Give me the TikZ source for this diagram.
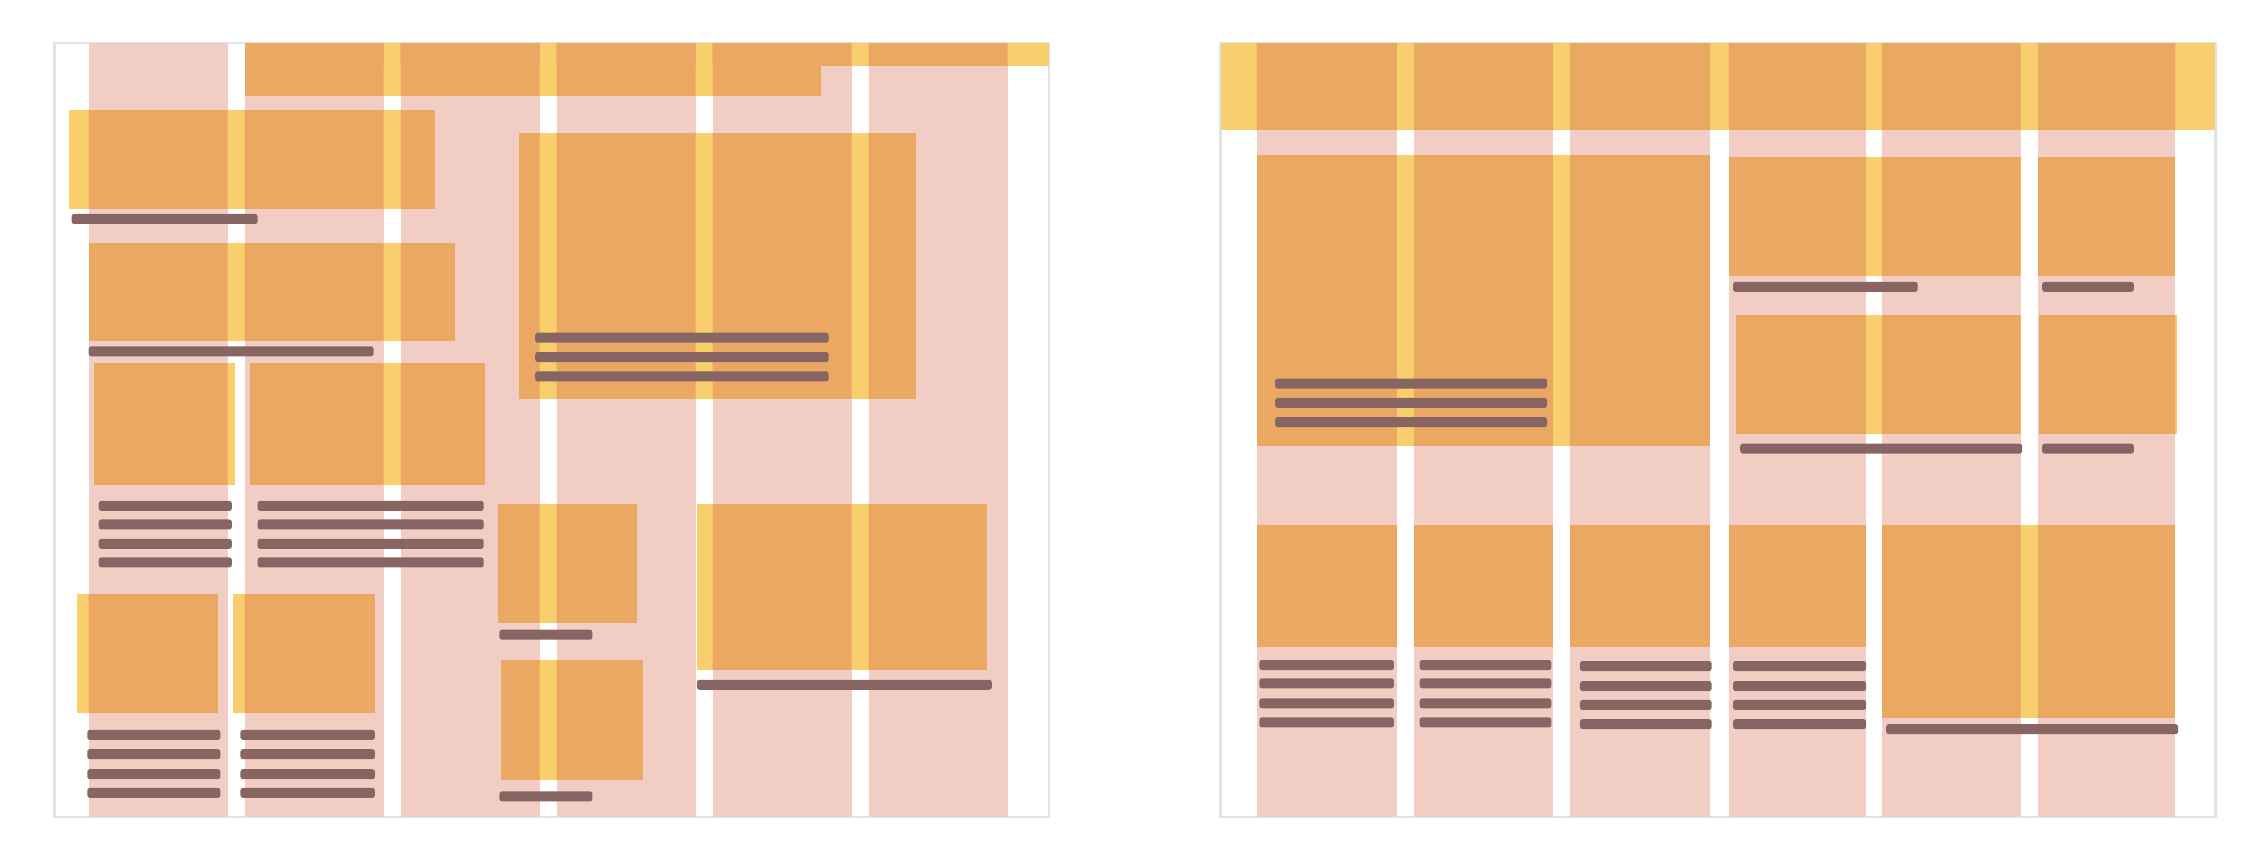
\documentclass[tikz,border=0pt]{standalone}
\usepackage{tikz}
\usetikzlibrary{calc}
\definecolor{cPink}{RGB}{242,205,196}
\definecolor{cOrange}{RGB}{234,168,98}
\definecolor{cYellow}{RGB}{249,206,108}
\definecolor{cBar}{RGB}{134,101,98}
\definecolor{cFrame}{RGB}{222,228,234}
\tikzset{
	colbox/.style  ={fill=cPink, draw=none},
	blkout/.style  ={fill=cYellow, draw=none},
	blkin/.style   ={fill=cOrange, draw=none},
	txt/.style     ={fill=cBar, draw=none, rounded corners=0.5pt},
	pageframe/.style={draw=cFrame, line width=0.5pt},
}
% one grey line of body text: x from, x to, y centre
\newcommand{\txtline}[3]{\fill[txt] (#1,#3-3.5) rectangle (#2,#3+3.5);}
% picture blocks of both pages: x1/y1/x2/y2
\newcommand{\leftblocks}{171/30/733/46, 171/30/574/67, 48/77/304/146, 62/170/318/238,
	66/254/164/339, 175/254/339/339, 54/415/152/498, 163/415/262/498,
	363/93/640/279, 348/352/445/435, 350/461/449/545, 487/352/690/468}
\newcommand{\rightblocks}{853/30/1548/91, 878/108/1195/312, 1208/110/1412/193,
	1424/110/1520/193, 1213/220/1412/303, 1425/220/1521/303,
	878/367/976/452, 988/367/1085/452, 1097/367/1195/452, 1208/367/1304/452,
	1315/367/1520/502}

\begin{document}
\begin{tikzpicture}[x=0.01cm, y=-0.01cm]
	\useasboundingbox (0,0) rectangle (1568,598);
	% left page
	\draw[pageframe] (38,30) rectangle (733,571);
	\foreach \i in {0,...,5}
		\fill[colbox] (62+\i*109,30) rectangle ++(97,541);
	\foreach \xa/\ya/\xb/\yb in \leftblocks
		\fill[blkout] (\xa,\ya) rectangle (\xb,\yb);
	\begin{scope}
		\clip (62,30) rectangle ++(97,541) (171,30) rectangle ++(97,541)
			(280,30) rectangle ++(97,541) (389,30) rectangle ++(97,541)
			(498,30) rectangle ++(97,541) (607,30) rectangle ++(97,541);
		\foreach \xa/\ya/\xb/\yb in \leftblocks
			\fill[blkin] (\xa,\ya) rectangle (\xb,\yb);
	\end{scope}
	\txtline{50}{180}{153}
	\txtline{62}{261}{245.5}
	\foreach \y in {353.5,366.5,380,393} {
		\txtline{69}{162}{\y}
		\txtline{180}{338}{\y}
	}
	\foreach \y in {513.5,527,541,554} {
		\txtline{61}{154}{\y}
		\txtline{168}{262}{\y}
	}
	\foreach \y in {236,249.5,263} {
		\txtline{374}{579}{\y}
	}
	\txtline{349}{414}{443.5}
	\txtline{349}{414}{556.5}
	\txtline{487}{693}{478.5}
	% right page
	\draw[pageframe] (853,30) rectangle (1548,571);
	\foreach \xa/\xb in {878/976, 988/1085, 1097/1195, 1208/1304, 1315/1412, 1424/1520}
		\fill[colbox] (\xa,30) rectangle (\xb,571);
	\foreach \xa/\ya/\xb/\yb in \rightblocks
		\fill[blkout] (\xa,\ya) rectangle (\xb,\yb);
	\begin{scope}
		\clip (878,30) rectangle (976,571) (988,30) rectangle (1085,571)
			(1097,30) rectangle (1195,571) (1208,30) rectangle (1304,571)
			(1315,30) rectangle (1412,571) (1424,30) rectangle (1520,571);
		\foreach \xa/\ya/\xb/\yb in \rightblocks
			\fill[blkin] (\xa,\ya) rectangle (\xb,\yb);
	\end{scope}
	\foreach \y in {268,281.5,295} {
		\txtline{891}{1081}{\y}
	}
	\txtline{1211}{1340}{200.5}
	\txtline{1427}{1491}{200.5}
	\txtline{1216}{1413}{313.5}
	\txtline{1427}{1491}{313.5}
	\foreach \y in {464.7,477.5,491.5,504.8} {
		\txtline{880}{974}{\y}
		\txtline{992}{1084}{\y}
	}
	\foreach \y in {465.4,479.4,492.6,506} {
		\txtline{1104}{1196}{\y}
		\txtline{1211}{1304}{\y}
	}
	\txtline{1318}{1522}{509.5}
\end{tikzpicture}
\end{document}
